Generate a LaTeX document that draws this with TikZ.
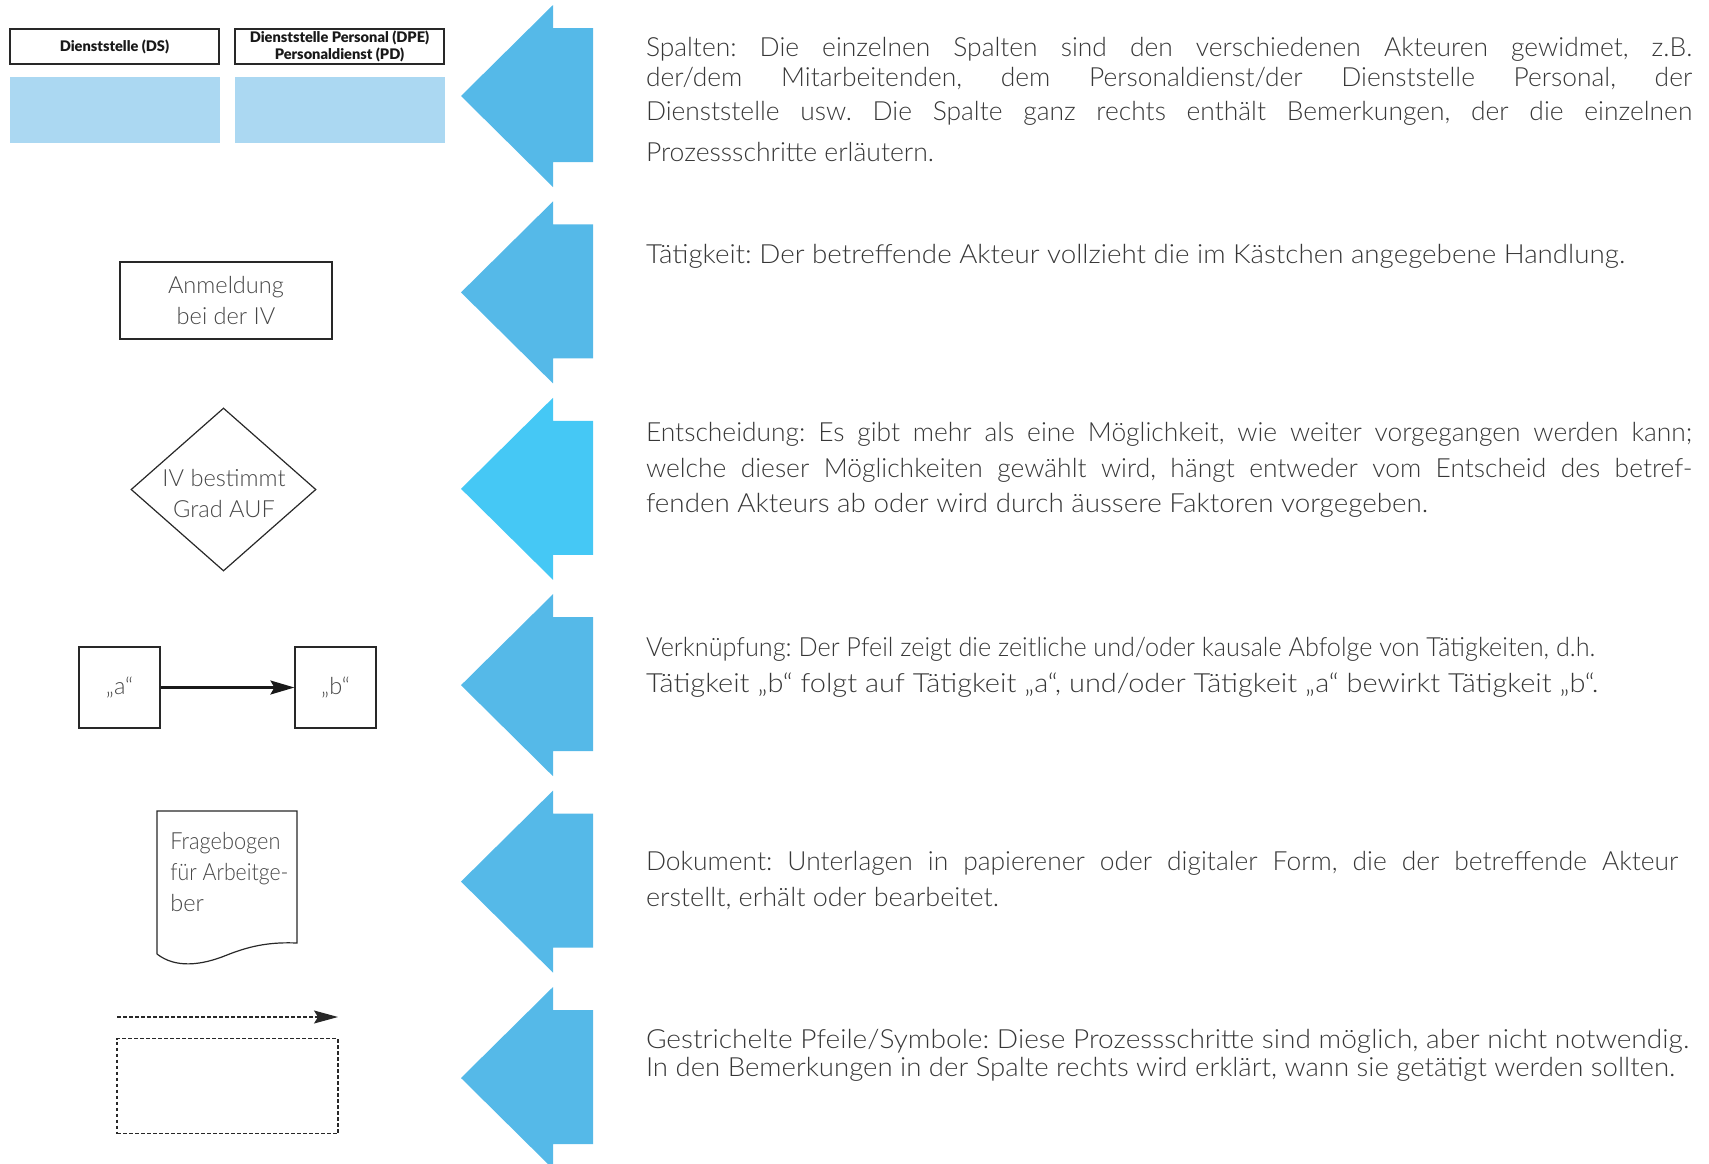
\documentclass[tikz,border=0pt]{standalone}
\usepackage{fontspec}
\usepackage{graphicx}
\usetikzlibrary{shapes.geometric,arrows.meta}
\IfFontExistsTF{Lato Light}{\newfontfamily\bodyfont{Lato Light}}{\newfontfamily\bodyfont{Lato}}
\IfFontExistsTF{Lato Black}{\newfontfamily\headfont{Lato Black}}{\newfontfamily\headfont{Lato}[UprightFeatures={FakeBold=1}]}
\definecolor{arrowblue}{RGB}{85,185,232}
\definecolor{arrowcyan}{RGB}{69,200,245}
\definecolor{lightblue}{RGB}{171,216,242}
\definecolor{txt}{RGB}{55,55,55}
\definecolor{shapetxt}{RGB}{70,70,70}
\definecolor{boxline}{RGB}{40,40,40}
\frenchspacing
\newsavebox\fitbox
\newcommand\fitto[2]{\sbox\fitbox{#2}\resizebox{#1}{\ht\fitbox}{\usebox\fitbox}}
\newcommand\justline[2]{\sbox\fitbox{#2}\ifdim\wd\fitbox>#1\relax\resizebox{#1}{\ht\fitbox}{\usebox\fitbox}\else\makebox[#1][s]{#2}\fi}
\tikzset{
  body/.style={anchor=base west, inner sep=0pt, outer sep=0pt, text=txt, font=\bodyfont\fontsize{13.2pt}{15pt}\selectfont},
  hdr/.style={draw=boxline, line width=1pt, inner sep=0pt, minimum width=104.5pt, minimum height=17.5pt, align=center, font=\headfont\fontsize{7.3pt}{8.6pt}\selectfont, text=black!90},
  lane/.style={fill=lightblue, inner sep=0pt, minimum width=105pt, minimum height=33pt},
  shapebox/.style={draw=boxline, line width=0.6pt, inner sep=0pt, align=center, text=shapetxt, font=\bodyfont\fontsize{11.8pt}{15.5pt}\selectfont},
  shapetext/.style={inner sep=0pt, text=shapetxt, font=\bodyfont\fontsize{11.8pt}{15.5pt}\selectfont},
  dashbox/.style={draw=boxline, line width=0.6pt, dash pattern=on 1.8pt off 1.2pt},
}
\newcommand\bigarrow[2]{% #1 tip y, #2 colour
  \fill[#2] (461,#1) -- (553,#1-91) -- (553,#1-68) -- (593,#1-68) -- (593,#1+66) -- (553,#1+66) -- (553,#1+91) -- cycle;}
\begin{document}
\begin{tikzpicture}[x=0.5pt,y=-0.5pt]
\useasboundingbox (0,0) rectangle (1709,1163);
% big arrows
\bigarrow{96}{arrowblue}
\bigarrow{292.4}{arrowblue}
\bigarrow{488.8}{arrowcyan}
\bigarrow{685.2}{arrowblue}
\bigarrow{881.6}{arrowblue}
\bigarrow{1078}{arrowblue}
% columns
\node[hdr] (ds) at (114.5,46.5) {Dienststelle (DS)};
\node[hdr] (pd) at (339.5,46.5) {Dienststelle Personal (DPE)\\Personaldienst (PD)};
\node[lane] (lane1) at (115,110) {};
\node[lane] (lane2) at (340,110) {};
% activity
\node[shapebox, minimum width=106pt, minimum height=38.5pt] (act) at (226,300.5) {Anmeldung\\bei der IV};
% decision
\node[diamond, draw=boxline, line width=0.6pt, inner sep=0pt, aspect=1.13, minimum width=92.5pt, minimum height=81.5pt] (dec) at (223.5,489.5) {};
\node[shapetext, align=center] (dectext) at (224,494) {IV bestimmt\\Grad AUF};
% link
\node[shapebox, minimum width=40.5pt, minimum height=40.5pt] (a) at (119.5,687.5) {„a“};
\node[shapebox, minimum width=40.5pt, minimum height=40.5pt] (b) at (335.5,687.5) {„b“};
\draw[line width=1.1pt, color=black!90, -{Stealth[length=12pt,width=7pt,inset=2pt]}] (a.east) -- (b.west);
% document
\coordinate (d1) at (157,811);
\coordinate (d2) at (297,811);
\coordinate (d3) at (297,943);
\coordinate (d4) at (157,954);
\draw[draw=boxline, line width=0.6pt] (d4) -- (d1) -- (d2) -- (d3) .. controls (272,942) and (252,945) .. (227,955) .. controls (200,966) and (175,968) .. (d4);
\node[shapetext, anchor=base west] (doc1) at (170,849) {\fitto{55pt}{Fragebogen}};
\node[shapetext, anchor=base west] (doc2) at (170,880) {\fitto{59pt}{für Arbeitge-}};
\node[shapetext, anchor=base west] (doc3) at (170,911) {ber};
% dashed
\coordinate (ds1) at (117,1017);
\coordinate (ds2) at (338,1017);
\draw[boxline, line width=0.6pt, dash pattern=on 1.8pt off 1.2pt, -{Stealth[length=12pt,width=6.5pt,inset=2pt]}] (ds1) -- (ds2);
\node[dashbox, inner sep=0pt, minimum width=110.5pt, minimum height=47.5pt] (dbox) at (227.5,1086) {};
% texts
\node[body] (t1a) at (646,56) {\justline{523pt}{Spalten: Die einzelnen Spalten sind den verschiedenen Akteuren gewidmet, z.B.}};
\node[body] (t1b) at (646,86) {\justline{523pt}{der/dem Mitarbeitenden, dem Personaldienst/der Dienststelle Personal, der}};
\node[body] (t1c) at (646,120) {\justline{523pt}{Dienststelle usw. Die Spalte ganz rechts enthält Bemerkungen, der die einzelnen}};
\node[body] (t1d) at (646,161) {\fitto{144pt}{Prozessschritte erläutern.}};
\node[body] (t2) at (646,263) {\fitto{489.5pt}{Tätigkeit: Der betreffende Akteur vollzieht die im Kästchen angegebene Handlung.}};
\node[body] (t3a) at (646,441) {\justline{523pt}{Entscheidung: Es gibt mehr als eine Möglichkeit, wie weiter vorgegangen werden kann;}};
\node[body] (t3b) at (646,477) {\justline{523pt}{welche dieser Möglichkeiten gewählt wird, hängt entweder vom Entscheid des betref-}};
\node[body] (t3c) at (646,512) {\fitto{391pt}{fenden Akteurs ab oder wird durch äussere Faktoren vorgegeben.}};
\node[body] (t4a) at (646,656) {\fitto{474.5pt}{Verknüpfung: Der Pfeil zeigt die zeitliche und/oder kausale Abfolge von Tätigkeiten, d.h.}};
\node[body] (t4b) at (646,692) {\fitto{476pt}{Tätigkeit „b“ folgt auf Tätigkeit „a“, und/oder Tätigkeit „a“ bewirkt Tätigkeit „b“.}};
\node[body] (t5a) at (646,870) {\justline{516pt}{Dokument: Unterlagen in papierener oder digitaler Form, die der betreffende Akteur}};
\node[body] (t5b) at (646,906) {\fitto{176.5pt}{erstellt, erhält oder bearbeitet.}};
\node[body] (t6a) at (646,1048) {\fitto{521.5pt}{Gestrichelte Pfeile/Symbole: Diese Prozessschritte sind möglich, aber nicht notwendig.}};
\node[body] (t6b) at (646,1076) {\fitto{514.5pt}{In den Bemerkungen in der Spalte rechts wird erklärt, wann sie getätigt werden sollten.}};
\end{tikzpicture}
\end{document}
